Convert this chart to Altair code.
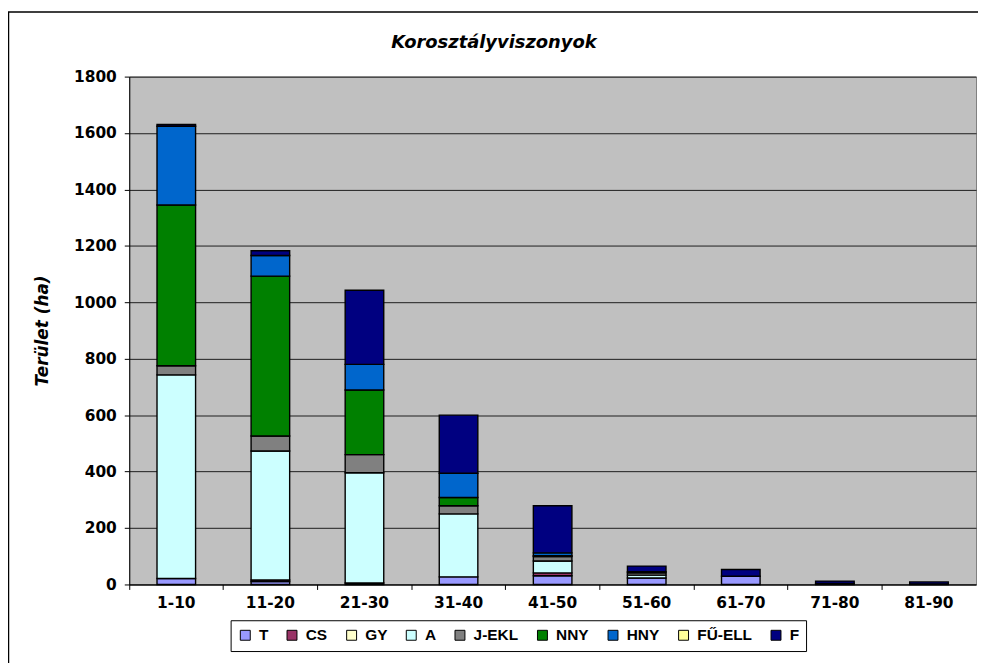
import altair as alt
import pandas as pd

ages = ["1-10", "11-20", "21-30", "31-40", "41-50", "51-60", "61-70", "71-80", "81-90"]
cats = ["T", "CS", "GY", "A", "J-EKL", "NNY", "HNY", "FŰ-ELL", "F"]
colors = ["#9999FF", "#993366", "#FFFFCC", "#CCFFFF", "#808080", "#008000", "#0066CC", "#FFFF99", "#000080"]

T = [21, 10, 5, 27, 31, 23, 29, 4, 2]
CS = [0, 6, 0, 0, 10, 0, 0, 0, 0]
GY = [0, 0, 0, 0, 0, 0, 0, 0, 0]
A = [722, 457, 391, 223, 42, 10, 0, 0, 0]
JEKL = [32, 53, 64, 29, 16, 8, 0, 0, 0]
NNY = [570, 567, 229, 29, 3, 0, 0, 0, 0]
HNY = [279, 73, 91, 86, 10, 4, 0, 0, 0]
FUELL = [0, 0, 0, 0, 0, 0, 0, 0, 0]
F = [6, 17, 263, 206, 167, 20, 24, 8, 7]

series = [T, CS, GY, A, JEKL, NNY, HNY, FUELL, F]
y_ticks = [0, 200, 400, 600, 800, 1000, 1200, 1400, 1600, 1800]

rows = []
for i, (c, vals) in enumerate(zip(cats, series)):
    for a, v in zip(ages, vals):
        if v > 0:
            rows.append({"age": a, "cat": c, "idx": i, "value": v})
df = pd.DataFrame(rows)

FONT = "DejaVu Sans"
LFONT = "Liberation Sans"

x_scale = alt.Scale(domain=ages, paddingInner=0, paddingOuter=0)

bars = alt.Chart(df).mark_bar(
    stroke="black", strokeWidth=1.4, width={"band": 0.41}
).encode(
    x=alt.X("age:N", sort=ages, scale=x_scale,
            axis=alt.Axis(title=None, labelAngle=0, ticks=False, labelPadding=11,
                          labelFont=FONT, labelFontSize=15.5, labelFontWeight="bold",
                          labelColor="black", domainColor="black", domainWidth=1,
                          orient="bottom", grid=False)),
    y=alt.Y("value:Q", stack="zero",
            scale=alt.Scale(domain=[0, 1800], nice=False),
            axis=alt.Axis(values=y_ticks, format="d", title="Terület (ha)", grid=True,
                          gridColor="black", gridWidth=1, gridOpacity=0.85,
                          tickSize=5, tickColor="black", domainColor="black",
                          labelFont=FONT, labelFontSize=15.5, labelFontWeight="bold",
                          labelColor="black", labelPadding=8,
                          titleFont=FONT, titleFontSize=17, titleFontWeight="bold",
                          titleFontStyle="italic", titleColor="black", titlePadding=22)),
    color=alt.Color("cat:N", scale=alt.Scale(domain=cats, range=colors),
                    legend=alt.Legend(orient="none", legendX=102, legendY=547,
                                      direction="horizontal", columns=9, title=None,
                                      symbolType="square", symbolSize=100,
                                      symbolStrokeColor="black", symbolStrokeWidth=1,
                                      labelFont=LFONT, labelFontSize=15.5, labelFontWeight="bold",
                                      labelColor="black", labelOffset=6, columnPadding=16,
                                      strokeColor="black", fillColor="white", padding=7)),
    order=alt.Order("idx:Q", sort="ascending"),
)

ticks = alt.Chart(df).mark_point(opacity=0).encode(
    x=alt.X("age:N", sort=ages, scale=x_scale,
            axis=alt.Axis(title=None, labels=False, domain=False, ticks=True,
                          tickSize=5, tickColor="black", bandPosition=0,
                          orient="bottom", grid=False)),
)

frame = alt.Chart(alt.Data(values=[{}])).mark_rect(
    filled=False, stroke="black", strokeWidth=1.5
).encode(
    x=alt.value(-121.5), x2=alt.value(1000), y=alt.value(-65), y2=alt.value(800)
)

chart = alt.layer(frame, bars, ticks).resolve_axis(x="independent").properties(
    width=852,
    height=511,
    autosize=alt.AutoSizeParams(type="none"),
    padding={"left": 122, "top": 67, "right": 2, "bottom": 77},
    title=alt.TitleParams("Korosztályviszonyok", font=FONT, fontSize=18,
                          fontStyle="italic", fontWeight="bold", color="black",
                          anchor="middle", dx=-59, offset=-41),
).configure(background="white").configure_view(fill="#C0C0C0", stroke="#808080")

chart.save("out.html", embed_options={"renderer": "svg", "actions": False})
